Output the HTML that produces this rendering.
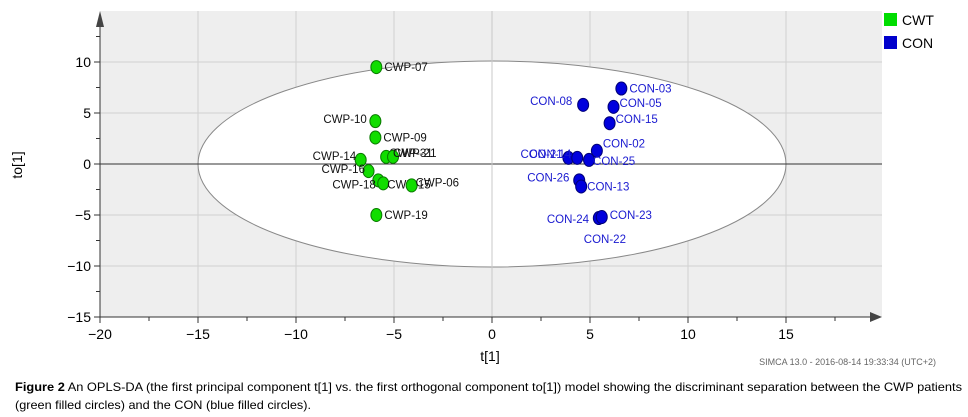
<!DOCTYPE html>
<html><head><meta charset="utf-8"><style>
html,body{margin:0;padding:0;background:#fff;}
svg{display:block;font-family:"Liberation Sans",Arial,sans-serif;}
</style></head><body>
<svg id="chart" width="968" height="417" viewBox="0 0 968 417" xmlns="http://www.w3.org/2000/svg">
<rect x="100" y="11" width="782" height="306" fill="#eeeeee"/>
<g id="grid"></g>
<ellipse id="hotelling" fill="#fff" stroke="#888" stroke-width="1"/>
<g id="axes"></g>
<g id="pts"></g>
<text x="22" y="165" font-size="14" transform="rotate(-90 22 165)" text-anchor="middle">to[1]</text>
<text x="490" y="361" font-size="14" text-anchor="middle">t[1]</text>
<g>
<rect x="884" y="13" width="13" height="13" fill="#00dd00"/>
<text x="902" y="25" font-size="14">CWT</text>
<rect x="884" y="36" width="13" height="13" fill="#0000cc"/>
<text x="902" y="48" font-size="14">CON</text>
</g>
<text x="936" y="365" font-size="9" fill="#666" text-anchor="end">SIMCA 13.0 - 2016-08-14 19:33:34 (UTC+2)</text>
<text x="15" y="391" font-size="12" textLength="947" lengthAdjust="spacingAndGlyphs"><tspan font-weight="bold">Figure 2</tspan> An OPLS-DA (the first principal component t[1] vs. the first orthogonal component to[1]) model showing the discriminant separation between the CWP patients</text>
<text x="15" y="409" font-size="12" textLength="296" lengthAdjust="spacingAndGlyphs">(green filled circles) and the CON (blue filled circles).</text>
</svg>
<script>
const xTicks=[-20,-15,-10,-5,0,5,10,15];
const yTicks=[-15,-10,-5,0,5,10];
const cwpLabels=["CWP-07","CWP-10","CWP-09","CWP-14","CWP-31","CWP-21","CWP-16","CWP-18","CWP-15","CWP-06","CWP-19"];
const cwpT=[-5.9,-5.95,-5.95,-6.7,-5.4,-5.05,-6.3,-5.8,-5.55,-4.1,-5.9];
const cwpTo=[9.5,4.2,2.6,0.4,0.7,0.7,-0.7,-1.6,-1.9,-2.1,-5.0];
const conLabels=["CON-03","CON-08","CON-05","CON-15","CON-02","CON-21","CON-14","CON-25","CON-26","CON-13","CON-24","CON-23"];
const conT=[6.6,4.65,6.2,6.0,5.35,3.9,4.35,4.95,4.45,4.55,5.45,5.6];
const conTo=[7.4,5.8,5.6,4.0,1.3,0.6,0.6,0.4,-1.6,-2.2,-5.3,-5.2];
const ellipseT=15, ellipseTo=10.1;
const X=v=>492+19.6*v, Y=v=>164-10.2*v;
const NS="http://www.w3.org/2000/svg";
function mk(tag,attrs,parent){const e=document.createElementNS(NS,tag);for(const k in attrs)e.setAttribute(k,attrs[k]);parent.appendChild(e);return e;}
const grid=document.getElementById('grid'),axes=document.getElementById('axes'),pts=document.getElementById('pts');
xTicks.forEach(v=>{if(v>-20){const l=mk('line',{x1:X(v),x2:X(v),y1:11,y2:317,stroke:'#d0d0d0'},grid);

}});
yTicks.forEach(v=>{if(v>-15){const l=mk('line',{x1:100,x2:882,y1:Y(v),y2:Y(v),stroke:'#d0d0d0'},grid);

}});
const el=document.getElementById('hotelling');
el.setAttribute('cx',X(0));el.setAttribute('cy',Y(0));el.setAttribute('rx',19.6*ellipseT);el.setAttribute('ry',10.2*ellipseTo);
const z1=mk('line',{x1:100,x2:882,y1:Y(0),y2:Y(0),stroke:'#333'},axes);


const z2=mk('line',{x1:X(0),x2:X(0),y1:11,y2:317,stroke:'#c8c8c8'},axes);


const xa=mk('line',{x1:100,x2:876,y1:317,y2:317,stroke:'#333'},axes);


const xh=mk('path',{d:'M882 317 L870 312 L870 322 Z',fill:'#444'},axes);


const ya=mk('line',{x1:100,x2:100,y1:317,y2:18,stroke:'#333'},axes);


const yh=mk('path',{d:'M100 11 L96 27 L104 27 Z',fill:'#444'},axes);


for(let v=-20;v<=17.5;v+=2.5){mk('line',{x1:X(v),x2:X(v),y1:317,y2:v%5===0?323:321,stroke:'#333'},axes);}
for(let v=-15;v<=12.5;v+=2.5){mk('line',{x1:v%5===0?94:96,x2:100,y1:Y(v),y2:Y(v),stroke:'#333'},axes);}
xTicks.forEach(v=>{const t=mk('text',{x:X(v),y:339,'font-size':14,'text-anchor':'middle'},axes);t.textContent=(v<0?'\u2212'+(-v):v);

});
yTicks.forEach(v=>{const t=mk('text',{x:91,y:Y(v)+5,'font-size':14,'text-anchor':'end'},axes);t.textContent=(v<0?'\u2212'+(-v):v);

});
const cwpOff=[[8,4],[-52,2],[8,4],[-48,0],[3,0],[0,0],[-47,2],[-46,8],[4,5],[4,1],[8,4]];
const conOff=[[8,4],[-53,0],[6,0],[6,0],[6,-3],[-48,0],[-48,0],[4,5],[-52,1],[6,4],[-52,5],[8,2]];
function plot(T,To,labels,off,fill,stroke,tcol,name){
T.forEach((t,i)=>{const cx=X(t),cy=Y(To[i]);
const c=mk('ellipse',{cx:cx,cy:cy,rx:5.5,ry:6.5,fill:fill,stroke:stroke,'stroke-width':1},pts);


const o=off[i]||[8,4];
const tx=mk('text',{x:cx+o[0],y:cy+o[1],'font-size':11.5,fill:tcol},pts);tx.textContent=labels[i];

});}
plot(cwpT,cwpTo,cwpLabels,cwpOff,'#11dd00','#0a7a00','#111','cwt');
plot(conT,conTo,conLabels,conOff,'#0000dd','#000077','#1a1ad0','con');
const t22=mk('text',{x:X(5.5)-16,y:Y(-5.3)+25,'font-size':11.5,fill:'#1a1ad0'},pts);t22.textContent='CON-22';


</script>
</body></html>
